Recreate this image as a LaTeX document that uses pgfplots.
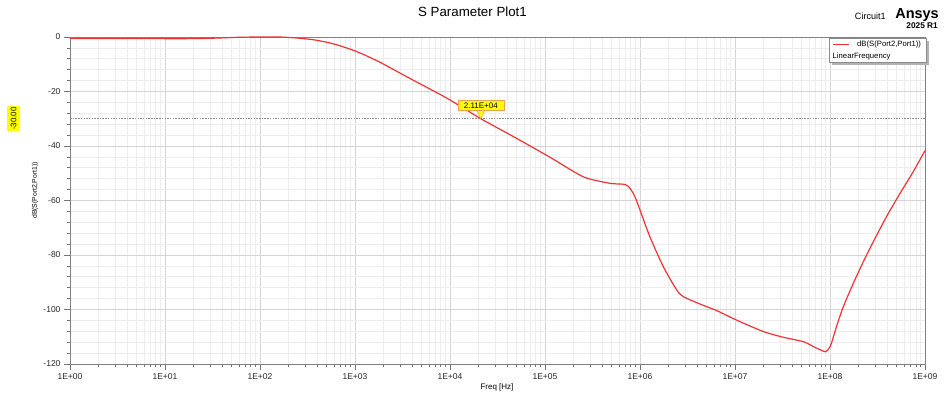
\documentclass[border=0pt]{standalone}
\usepackage{fontspec}
\setmainfont{Liberation Sans}
\usepackage{pgfplots}
\pgfplotsset{compat=1.18}
\definecolor{curvered}{RGB}{240,50,55}
\definecolor{mkyellow}{RGB}{255,255,0}
\definecolor{mkorange}{RGB}{240,160,80}
\begin{document}
\begin{tikzpicture}[x=1pt,y=1pt]
\path[use as bounding box] (0,0) rectangle (948,398);
\begin{axis}[
  at={(70pt,34pt)}, anchor=south west,
  scale only axis, width=855pt, height=327pt,
  xmode=log, xmin=1, xmax=1e9, ymin=-120, ymax=0,
  xtick={1,10,100,1000,1e4,1e5,1e6,1e7,1e8,1e9},
  xticklabels={1E+00,1E+01,1E+02,1E+03,1E+04,1E+05,1E+06,1E+07,1E+08,1E+09},
  minor xtick={2,3,4,5,6,7,8,9,20,30,40,50,60,70,80,90,200,300,400,500,600,700,800,900,2e3,3e3,4e3,5e3,6e3,7e3,8e3,9e3,2e4,3e4,4e4,5e4,6e4,7e4,8e4,9e4,2e5,3e5,4e5,5e5,6e5,7e5,8e5,9e5,2e6,3e6,4e6,5e6,6e6,7e6,8e6,9e6,2e7,3e7,4e7,5e7,6e7,7e7,8e7,9e7,2e8,3e8,4e8,5e8,6e8,7e8,8e8,9e8},
  ytick={-120,-100,-80,-60,-40,-20,0},
  minor y tick num=4,
  grid=both,
  major grid style={color=black!17, line width=0.6pt},
  minor grid style={color=black!7, line width=0.6pt},
  axis line style={color=black!50, line width=0.9pt},
  tick align=outside, tick pos=left,
  major tick length=6pt, minor tick length=3pt,
  every tick/.style={color=black!55, line width=0.6pt},
  ticklabel style={font=\fontsize{8.5}{10}\selectfont, text=black!85},
  /pgf/number format/assume math mode=true,
]
\addplot[black!45, line width=0.5pt, dash pattern=on 1.5pt off 1.2pt] coordinates {(1,-30) (1e9,-30)};
\addplot[curvered, line width=1.2pt, smooth, tension=0.4] coordinates {
(1,-0.6) (5,-0.6) (20,-0.6) (35,-0.4) (60,-0.1) (100,0) (160,0)
(250,-0.4) (363,-1.0) (500,-1.9) (650,-2.9) (813,-4.0) (1000,-5.1) (1300,-6.8)
(1820,-9.2) (2500,-11.8) (4074,-15.8) (9333,-22.5)
(21100,-30.0) (46800,-36.6) (110000,-43.9) (253000,-51.3) (483000,-53.7)
(695000,-54.1) (785000,-55.5) (885000,-58.6) (1000000,-63.5) (1270000,-73.3)
(1760000,-84.3) (2430000,-92.8) (2860000,-95.3) (4290000,-98.0) (6410000,-100.4)
(10400000,-103.9) (19900000,-108.1) (32300000,-110.2) (52400000,-111.8)
(66800000,-113.6) (80000000,-114.9) (90000000,-115.5) (98000000,-114.2) (104000000,-112.2)
(117000000,-106.3) (138000000,-99.0) (176000000,-90.4) (224000000,-82.5)
(286000000,-75.1) (394000000,-65.9) (546000000,-57.4) (753000000,-49.4)
(1000000000,-41.7)};
\coordinate (mk) at (axis cs:21100,-30);
\end{axis}
% marker label
\fill[mkyellow] ([xshift=-4pt,yshift=8.5pt]mk) -- ([xshift=4pt,yshift=8.5pt]mk) -- (mk) -- cycle;
\draw[mkorange, line width=0.5pt] ([xshift=-4pt,yshift=8.5pt]mk) -- (mk) -- ([xshift=4pt,yshift=8.5pt]mk);
\node[fill=mkyellow, draw=mkorange, line width=0.6pt, inner sep=1pt, minimum width=46pt, minimum height=10pt,
  font=\fontsize{8}{9}\selectfont, anchor=south] at ([yshift=8pt]mk) {2.11E+04};
% left -30.00 tag
\node[fill=mkyellow, rounded corners=1.5pt, rotate=90, inner sep=1.2pt, minimum height=13pt,
  font=\fontsize{8}{9}\selectfont] at (13.5,279.5) {-30.00};
% legend
\fill[black!30] (832,333) rectangle (929,357);
\draw[black!45, fill=white, line width=0.5pt] (829,336) rectangle (926,360);
\draw[curvered, line width=0.8pt] (833,354) -- (849,354);
\node[anchor=west, inner sep=0pt, font=\fontsize{7.7}{9}\selectfont] at (857,353.5) {dB(S(Port2,Port1))};
\node[anchor=west, inner sep=0pt, font=\fontsize{7.7}{9}\selectfont] at (832.5,341.5) {LinearFrequency};
% titles and labels
\node[anchor=base, inner sep=0pt, font=\fontsize{13.3}{15}\selectfont] at (472.5,381) {S Parameter Plot1};
\node[anchor=base east, inner sep=0pt, font=\fontsize{9.1}{11}\selectfont] at (886,378) {Circuit1};
\node[anchor=base east, inner sep=0pt, font=\bfseries\fontsize{14.5}{16}\selectfont] at (939,379.5) {Ansys};
\node[anchor=base east, inner sep=0pt, font=\bfseries\fontsize{8.3}{10}\selectfont] at (938,369) {2025 R1};
\node[rotate=90, inner sep=0pt, font=\fontsize{6.8}{8}\selectfont] at (35,207.5) {dB(S(Port2,Port1))};
\node[inner sep=0pt, font=\fontsize{8}{9}\selectfont] at (497,11) {Freq [Hz]};
\end{tikzpicture}
\end{document}
